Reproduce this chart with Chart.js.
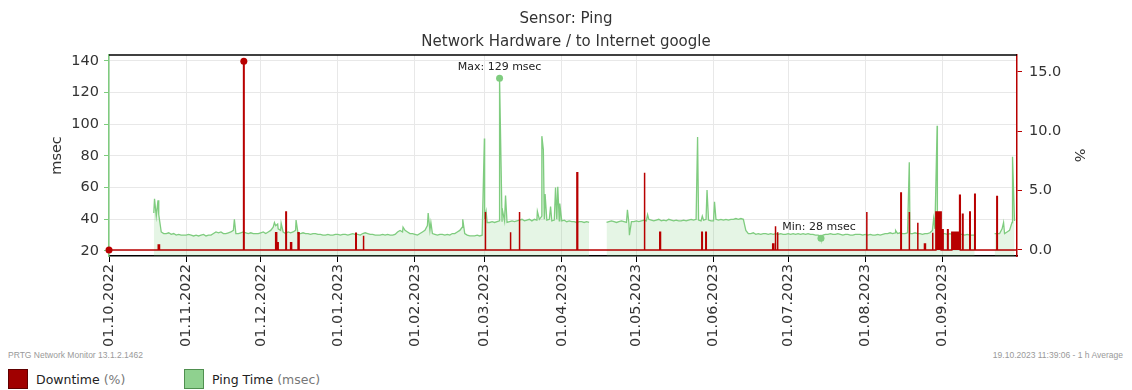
<!DOCTYPE html>
<html>
<head>
<meta charset="utf-8">
<script src="https://cdn.jsdelivr.net/npm/chart.js@4.4.1/dist/chart.umd.min.js"></script>
<style>
  body { margin: 0; background: #fff; width: 1132px; height: 390px; overflow: hidden; position: relative; font-family: "DejaVu Sans", sans-serif; }
  #wrap { position: absolute; left: 0; top: 0; width: 1132px; height: 348px; }
  .foot { position: absolute; top: 350px; font: 8.5px "Liberation Sans", sans-serif; color: #999; white-space: nowrap; }
  .leg { position: absolute; top: 369px; height: 20px; display: flex; align-items: center; font-size: 12.5px; color: #222; white-space: nowrap; }
  .leg i { display: inline-block; width: 18px; height: 18px; margin-right: 8px; }
  .leg span { color: #777; margin-left: 4px; }
</style>
</head>
<body>
<div id="wrap"><canvas id="chart"></canvas></div>
<div class="foot" style="left:8px">PRTG Network Monitor 13.1.2.1462</div>
<div class="foot" style="right:9px">19.10.2023 11:39:06 - 1 h Average</div>
<div class="leg" style="left:8px"><i style="background:#a00000;border:1px solid #600000"></i>Downtime<span>(%)</span></div>
<div class="leg" style="left:184px"><i style="background:#8fd18f;border:1px solid #4f8f4f"></i>Ping Time<span>(msec)</span></div>
<script>
// x values are days since 01.10.2022
const monthDays = [0, 31, 61, 92, 123, 151, 182, 212, 243, 273, 304, 335];
const monthLabels = ['01.10.2022', '01.11.2022', '01.12.2022', '01.01.2023', '01.02.2023', '01.03.2023',
    '01.04.2023', '01.05.2023', '01.06.2023', '01.07.2023', '01.08.2023', '01.09.2023'];
const leftTicks = [20, 40, 60, 80, 100, 120, 140];
const rightTicks = [0, 5, 10, 15];

// ping time (msec), one value per day
const pingOct = [null, null, null, null, null, null, null, null, null, null, null, null, null, null, null, null, null, null,
    44, 42, 43, 32, 31, 31, 31.5, 30.5, 31, 30, 30.5, 30, 30];
const pingNov = [30, 30.5, 30, 29.5, 30, 29.5, 30, 30.5, 29.5, 30, 30, 31, 32, 31.5, 32, 31, 31, 31.5, 32, 33,
    31, 31, 31.5, 32, 31.5, 31, 31.5, 31, 31, 31];
const pingDec = [31.5, 32, 31, 32, 33, 35, 36, 34, 33, 32, 31, 32, 31.5, 32, 33, 31, 31, 31.5, 31, 31,
    30.5, 31, 31, 30.5, 30.5, 30, 30, 30.5, 30, 30, 30.5];
const pingJan = [30.5, 30, 30.5, 30.5, 30, 30.5, 31, 30.5, 30.5, 30, 31, 31.5, 31, 30.5, 30.5, 30, 30, 30, 30.5, 30,
    30.5, 30, 30, 30.5, 32, 33, 32, 33, 32, 31, 31];
const pingFeb = [30.5, 30, 31, 32, 33, 36, 33, 31, 30.5, 30, 30.5, 30.5, 30, 30.5, 30, 31, 31, 32, 33, 35,
    31, 30, 29.5, 29.5, 29.5, 30, 29.5, 30];
const pingMar = [40, 38, 38, 38.5, 38, 38.5, 39, 38.5, 39, 38, 38.5, 39, 38.5, 39, 39.5, 40, 39, 39.5, 40, 39,
    40, 39.5, 40, 42, 40, 39.5, 40, 39, 39.5, 40, 39];
const pingApr = [39, 39.5, 38.5, 39, 38.5, 38.5, 38, 38.5, 38.5, 38, 38.5, 38, null, null, null, null, null, null,
    38, 38.5, 39, 38.5, 38, 38.5, 39, 38.5, 38, 37.5, 38.5, 38.5];
const pingMay = [39, 38.5, 39, 39.5, 39, 40, 39.5, 39, 39.5, 40, 39, 39.5, 39, 40, 39.5, 39, 39.5, 39, 39, 39.5,
    39, 39.5, 40, 39.5, 40, 39.5, 39, 39.5, 40, 39.5, 39];
const pingJun = [39, 40, 39.5, 40, 39.5, 40, 39.5, 40, 40, 40.5, 40, 40.5, 40, 33, 31, 31, 31.5, 30.5, 31, 30.5,
    31, 31, 30.5, 31, 30.5, 31, 30.5, 31, 30.5, 30.5];
const pingJul = [31, 30.5, 31, 30.5, 31, 30.5, 31, 30.5, 31, 30.5, 30.5, 30, 30, 29.5, 30, 30.5, 30.5, 31, 30.5, 30.5,
    31, 30.5, 30, 30.5, 30.5, 30, 30, 30.5, 30.5, 30.5, 30];
const pingAug = [30.5, 30, 30.5, 30, 30, 30.5, 30, 30.5, 31, 31, 31.5, 31, 31.5, 31, 31.5, 31, 31, 31.5, 31, 31,
    31.5, 31, 31, 30.5, 31, 31, 31.5, 33, 34, 31, 31];
const pingSep = [31, 31, 30.5, 31, 30.5, 30.5, 30, 30.5, 30.5, 30, 30.5, 30, 30, 30, null, null, null, null, null, null, null,
    31, 31, 31, 34, 31, 32, 33, 38, 39];

// short spikes between the daily values
const pingSpikeDays = [18.3, 19.7, 50.4, 66.5, 67.8, 69.2, 75.2, 118.2, 128.3, 129.4, 142.2, 150.9, 151.6, 157.0, 158.0,
    159.4, 172.2, 174.0, 174.6, 175.3, 177.5, 179.5, 180.4, 181.2, 208.4, 209.2, 216.5, 236.6, 238.5, 240.4, 243.4,
    286.2, 316.2, 321.7, 331.5, 332.9, 359.6, 363.2];
const pingSpikeValues = [53, 52, 40, 38, 37, 37.5, 39.5, 35, 44, 38, 40, 91, 45, 129, 47,
    55, 45, 92.5, 84, 56, 48, 60, 60.5, 50, 46, 30, 43, 92, 42, 58.5, 51,
    28, 33, 76, 40.5, 99, 38, 79.5];

// downtime (%) events: start day, end day, percent
const downStart = [19.8, 54.1, 67.0, 67.7, 71.1, 73.0, 76.0, 99.2, 102.2, 151.2, 161.3, 164.9, 188.1, 215.1, 221.4,
    238.3, 239.9, 266.8, 267.8, 268.6, 304.5, 318.3, 321.6, 325.0, 327.8, 331.0, 332.4, 335.1, 337.1, 338.8,
    342.0, 343.1, 346.0, 348.0, 356.9];
const downEnd = [20.3, 54.3, 67.4, 68.0, 71.3, 73.4, 76.4, 99.4, 102.4, 151.4, 161.5, 165.1, 188.4, 215.4, 221.7,
    238.5, 240.1, 267.2, 268.0, 268.9, 304.7, 318.5, 321.8, 325.2, 328.2, 331.2, 334.5, 335.3, 337.3, 341.8,
    342.2, 343.3, 346.2, 348.2, 357.1];
const downPct = [0.42, 15.9, 1.45, 0.6, 3.2, 0.6, 1.45, 1.4, 1.2, 3.2, 1.5, 3.2, 6.5, 6.5, 1.5,
    1.5, 1.5, 0.5, 2.0, 1.5, 3.2, 4.8, 3.2, 2.3, 0.5, 1.45, 3.2, 1.7, 1.7, 1.5,
    4.6, 3.0, 3.2, 4.7, 4.5];

const pingMax = { day: 157.0, value: 129 };
const pingMin = { day: 286.2, value: 28 };
const downMax = { day: 54.2, value: 15.9 };

const GREEN = '#7fcc7f';
const RED = '#b80000';
const FONT = '"DejaVu Sans", sans-serif';

const pingDaily = [].concat(pingOct, pingNov, pingDec, pingJan, pingFeb, pingMar, pingApr, pingMay, pingJun, pingJul, pingAug, pingSep);
const pingPoints = pingDaily.map((v, d) => ({ x: d, y: v }));
pingSpikeDays.forEach((d, i) => pingPoints.push({ x: d, y: pingSpikeValues[i] }));
pingPoints.sort((a, b) => a.x - b.x);

const downPoints = [{ x: 0, y: 0 }];
downStart.forEach((s, i) => {
    downPoints.push({ x: s, y: 0 }, { x: s, y: downPct[i] }, { x: downEnd[i], y: downPct[i] }, { x: downEnd[i], y: 0 });
});
downPoints.push({ x: 365, y: 0 });

const markers = {
    id: 'markers',
    afterDatasetsDraw(chart) {
        const { ctx, chartArea, scales } = chart;
        ctx.save();
        // top border
        ctx.strokeStyle = '#000';
        ctx.lineWidth = 1.5;
        ctx.beginPath();
        ctx.moveTo(chartArea.left, chartArea.top);
        ctx.lineTo(chartArea.right, chartArea.top);
        ctx.stroke();

        const dot = (x, y, color) => {
            ctx.fillStyle = color;
            ctx.beginPath();
            ctx.arc(x, y, 3.5, 0, Math.PI * 2);
            ctx.fill();
        };
        ctx.font = '11px ' + FONT;
        ctx.textAlign = 'center';
        ctx.textBaseline = 'middle';

        const mx = scales.x.getPixelForValue(pingMax.day), my = scales.y.getPixelForValue(pingMax.value);
        dot(mx, my, GREEN);
        ctx.fillStyle = '#222';
        ctx.fillText('Max: ' + pingMax.value + ' msec', mx, my - 11);

        const nx = scales.x.getPixelForValue(pingMin.day), ny = scales.y.getPixelForValue(pingMin.value);
        dot(nx, ny, GREEN);
        ctx.fillStyle = '#222';
        ctx.fillText('Min: ' + pingMin.value + ' msec', nx - 2, ny - 11);

        dot(scales.x.getPixelForValue(downMax.day), scales.y2.getPixelForValue(downMax.value), RED);
        dot(scales.x.getPixelForValue(0), scales.y2.getPixelForValue(0), RED);
        ctx.restore();
    }
};

new Chart(document.getElementById('chart'), {
    type: 'line',
    data: {
        datasets: [{
            label: 'Downtime',
            data: downPoints,
            yAxisID: 'y2',
            borderColor: RED,
            backgroundColor: RED,
            borderWidth: 1.5,
            fill: 'origin',
            pointRadius: 0,
            tension: 0,
            order: 0
        }, {
            label: 'Ping Time',
            data: pingPoints,
            yAxisID: 'y',
            borderColor: GREEN,
            backgroundColor: 'rgba(127, 204, 127, 0.2)',
            borderWidth: 1.3,
            fill: 'start',
            pointRadius: 0,
            tension: 0,
            spanGaps: false,
            order: 1
        }]
    },
    options: {
        responsive: true,
        maintainAspectRatio: false,
        animation: false,
        layout: { padding: 0 },
        plugins: {
            legend: { display: false },
            tooltip: { enabled: false },
            title: {
                display: true,
                text: ['Sensor: Ping', 'Network Hardware / to Internet google'],
                color: '#333',
                font: { family: FONT, size: 15, weight: 'normal', lineHeight: 1.53 },
                padding: { top: 8, bottom: 1 }
            }
        },
        scales: {
            x: {
                type: 'linear',
                min: 0,
                max: 365,
                afterBuildTicks: s => { s.ticks = monthDays.map(v => ({ value: v })); },
                afterFit: s => { s.height = 92; },
                ticks: {
                    autoSkip: false,
                    minRotation: 90,
                    maxRotation: 90,
                    padding: 2,
                    color: '#333',
                    font: { family: FONT, size: 14.5 },
                    callback: (v, i) => monthLabels[i]
                },
                grid: { color: '#e8e8e8', tickColor: '#000', tickLength: 6 },
                border: { color: '#000', width: 1.5 }
            },
            y: {
                position: 'left',
                min: 16.84,
                max: 143.8,
                afterBuildTicks: s => { s.ticks = leftTicks.map(v => ({ value: v })); },
                afterFit: s => { s.width = 109; },
                ticks: { color: '#333', padding: 5, font: { family: FONT, size: 14.5 } },
                grid: { color: '#e8e8e8', tickColor: GREEN, tickLength: 5 },
                border: { color: GREEN, width: 1.5 },
                title: { display: true, text: 'msec', color: '#333', font: { family: FONT, size: 14.5 }, padding: { top: 49, bottom: 0 } }
            },
            y2: {
                position: 'right',
                min: -0.51,
                max: 16.43,
                afterBuildTicks: s => { s.ticks = rightTicks.map(v => ({ value: v })); },
                afterFit: s => { s.width = 115; },
                ticks: { color: '#333', padding: 7, font: { family: FONT, size: 14.5 }, callback: v => v.toFixed(1) },
                grid: { drawOnChartArea: false, tickColor: RED, tickLength: 5 },
                border: { color: RED, width: 1.5 },
                title: { display: true, text: '%', color: '#333', font: { family: FONT, size: 14.5 }, padding: { top: 45, bottom: 0 } }
            }
        }
    },
    plugins: [markers]
});
</script>
</body>
</html>
